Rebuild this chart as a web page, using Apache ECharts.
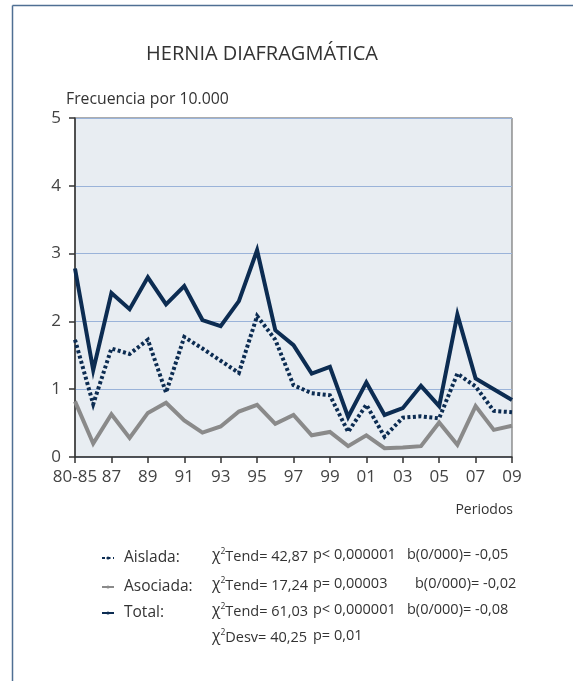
<!DOCTYPE html>
<html>
<head>
<meta charset="utf-8">
<script src="https://cdn.jsdelivr.net/npm/echarts@6/dist/echarts.min.js"></script>
<style>
  html, body { margin: 0; padding: 0; background: #ffffff; }
  #chart { width: 573px; height: 681px; }
</style>
</head>
<body>
<div id="chart"></div>
<script>
// Periods on the horizontal axis (first one groups 1980-85)
const categories = ['80-85', '86', '87', '88', '89', '90', '91', '92', '93', '94', '95',
  '96', '97', '98', '99', '00', '01', '02', '03', '04', '05', '06', '07', '08', '09'];

// Frequency per 10,000 births
const aislada  = [1.73, 0.78, 1.60, 1.52, 1.73, 0.95, 1.77, 1.60, 1.42, 1.24, 2.08, 1.73, 1.06,
  0.94, 0.91, 0.37, 0.77, 0.30, 0.58, 0.60, 0.57, 1.23, 1.04, 0.68, 0.66];
const asociada = [0.82, 0.20, 0.63, 0.28, 0.65, 0.80, 0.54, 0.36, 0.45, 0.67, 0.77, 0.49, 0.62,
  0.32, 0.37, 0.16, 0.32, 0.13, 0.14, 0.16, 0.51, 0.18, 0.75, 0.40, 0.46];
const total    = [2.78, 1.28, 2.42, 2.18, 2.65, 2.25, 2.52, 2.02, 1.93, 2.30, 3.05, 1.87, 1.65,
  1.23, 1.33, 0.59, 1.10, 0.62, 0.72, 1.05, 0.75, 2.10, 1.16, 1.00, 0.84];

const yTicks = [0, 1, 2, 3, 4, 5];

// Trend test results printed beside the legend
const seriesNames = ['Aislada', 'Asociada', 'Total'];
const statName  = ['Tend', 'Tend', 'Tend', 'Desv'];
const statValue = ['42,87', '17,24', '61,03', '40,25'];
const pText     = ['p< 0,000001', 'p= 0,00003', 'p< 0,000001', 'p= 0,01'];
const slopeText = ['b(0/000)= -0,05', 'b(0/000)= -0,02', 'b(0/000)= -0,08', ''];

const NAVY = '#0c2c52';
const GREY = '#8a8a8a';
const TEXT = '#333333';
const FONT = 'Open Sans';
const STAT_SIZE = 14.5;

const rowY = [555, 584, 610, 636];
const statsX = [[212, 313, 407], [212, 313, 415], [212, 313, 407], [212, 313, 407]];

const graphics = [
  // page frame (top and left rules)
  { type: 'line', shape: { x1: 12.5, y1: 5.5, x2: 573, y2: 5.5 }, style: { stroke: '#4f6f93', lineWidth: 1.5 } },
  { type: 'line', shape: { x1: 12.5, y1: 5.5, x2: 12.5, y2: 681 }, style: { stroke: '#4f6f93', lineWidth: 1.5 } },
  { type: 'text', x: 262, y: 54, style: { text: 'HERNIA DIAFRAGMÁTICA', fontFamily: FONT, fontSize: 20,
      fill: TEXT, textAlign: 'center', textVerticalAlign: 'middle' } },
  { type: 'text', x: 66, y: 99, style: { text: 'Frecuencia por 10.000', fontFamily: FONT, fontSize: 15.8,
      fill: TEXT, textAlign: 'left', textVerticalAlign: 'middle' } },
  { type: 'text', x: 513, y: 510, style: { text: 'Periodos', fontFamily: FONT, fontSize: 14,
      fill: TEXT, textAlign: 'right', textVerticalAlign: 'middle' } }
];

const statStyle = { fontFamily: FONT, fontSize: STAT_SIZE, fill: TEXT, textAlign: 'left', textVerticalAlign: 'middle' };

rowY.forEach((y, r) => {
  // chi-square with a small raised "2"
  graphics.push({ type: 'text', x: statsX[r][0], y: y,
    style: Object.assign({}, statStyle, {
      text: '{chi|χ}{sup|2}{txt|' + statName[r] + '= ' + statValue[r] + '}',
      rich: {
        chi: { fontFamily: FONT, fontSize: STAT_SIZE + 1, fill: TEXT, lineHeight: 18, verticalAlign: 'bottom' },
        sup: { fontFamily: FONT, fontSize: 8.5, fill: TEXT, lineHeight: 18, verticalAlign: 'top', padding: [1, 0, 0, 0] },
        txt: { fontFamily: FONT, fontSize: STAT_SIZE, fill: TEXT, lineHeight: 18, verticalAlign: 'bottom' }
      }
    }) });
  if (pText[r]) graphics.push({ type: 'text', x: statsX[r][1], y: y, style: Object.assign({}, statStyle, { text: pText[r] }) });
  if (slopeText[r]) graphics.push({ type: 'text', x: statsX[r][2], y: y, style: Object.assign({}, statStyle, { text: slopeText[r] }) });
});

const legends = seriesNames.map((name, i) => ({
  data: [name],
  left: 96,
  top: rowY[i] - 10,
  orient: 'vertical',
  itemWidth: 12,
  itemHeight: 4,
  itemGap: 0,
  selectedMode: false,
  formatter: n => n + ':',
  textStyle: { fontFamily: FONT, fontSize: 15.5, color: TEXT, padding: [0, 0, 0, 5] }
}));

const chart = echarts.init(document.getElementById('chart'), null, { renderer: 'canvas' });

chart.setOption({
  animation: false,
  backgroundColor: '#ffffff',
  textStyle: { fontFamily: FONT },
  graphic: graphics,
  legend: legends,
  grid: {
    left: 75, right: 61, top: 118, bottom: 224,
    show: true, backgroundColor: '#e8edf2', borderColor: '#5a5a5a', borderWidth: 1
  },
  xAxis: {
    type: 'category',
    data: categories,
    boundaryGap: false,
    axisLine: { show: true, lineStyle: { color: '#333', width: 1.5 } },
    axisTick: { show: true, interval: 1, length: 6, lineStyle: { color: '#333', width: 1.5 } },
    axisLabel: { interval: 1, fontFamily: FONT, fontSize: 17, color: '#444', margin: 12 },
    splitLine: { show: false }
  },
  yAxis: {
    type: 'value',
    min: yTicks[0],
    max: yTicks[yTicks.length - 1],
    interval: 1,
    axisLine: { show: true, lineStyle: { color: '#333', width: 1.5 } },
    axisTick: { show: true, length: 6, lineStyle: { color: '#333', width: 1.5 } },
    axisLabel: { fontFamily: FONT, fontSize: 17, color: '#444', margin: 14 },
    splitLine: { show: true, lineStyle: { color: '#9ab3d9', width: 1.2 } }
  },
  series: [
    {
      name: 'Aislada', type: 'line', data: aislada, symbol: 'none',
      lineStyle: { color: NAVY, width: 4, type: [3, 2.5], cap: 'butt', join: 'miter' },
      itemStyle: { color: NAVY }, z: 3
    },
    {
      name: 'Asociada', type: 'line', data: asociada, symbol: 'none',
      lineStyle: { color: GREY, width: 4, join: 'miter' },
      itemStyle: { color: GREY }, z: 2
    },
    {
      name: 'Total', type: 'line', data: total, symbol: 'none',
      lineStyle: { color: NAVY, width: 4, join: 'miter' },
      itemStyle: { color: NAVY }, z: 4
    }
  ]
});
</script>
</body>
</html>
